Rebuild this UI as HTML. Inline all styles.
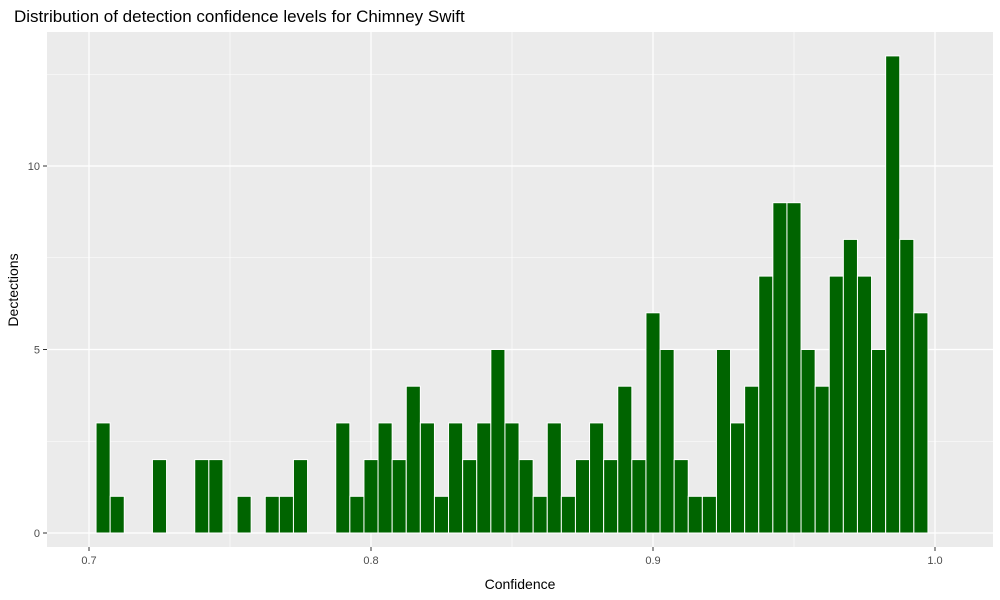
<!DOCTYPE html>
<html><head><meta charset="utf-8"><style>body{margin:0;background:#fff}svg{display:block;font-family:"Liberation Sans",sans-serif}</style></head>
<body>
<svg id="chart" width="1000" height="600">
<text x="14" y="22" font-size="17" fill="#000">Distribution of detection confidence levels for Chimney Swift</text>
<rect x="47" y="32" width="946" height="515" fill="#EBEBEB"/>
<g id="grid"></g><g id="bars"></g><g id="axes"></g>
<text x="520" y="589" font-size="14" text-anchor="middle">Confidence</text>
<text transform="translate(18,290) rotate(-90)" font-size="14" text-anchor="middle">Dectections</text>
</svg>
<script>
const binCenters=[0.705,0.71,0.725,0.74,0.745,0.755,0.765,0.77,0.775,0.79,0.795,0.8,0.805,0.81,0.815,0.82,0.825,0.83,0.835,0.84,0.845,0.85,0.855,0.86,0.865,0.87,0.875,0.88,0.885,0.89,0.895,0.9,0.905,0.91,0.915,0.92,0.925,0.93,0.935,0.94,0.945,0.95,0.955,0.96,0.965,0.97,0.975,0.98,0.985,0.99,0.995];
const counts=[3,1,2,2,2,1,1,1,2,3,1,2,3,2,4,3,1,3,2,3,5,3,2,1,3,1,2,3,2,4,2,6,5,2,1,1,5,3,4,7,9,9,5,4,7,8,7,5,13,8,6];
const xTicks=[0.7,0.8,0.9,1.0];
const xTickLabels=["0.7","0.8","0.9","1.0"];
const yTicks=[0,5,10];
const yTickLabels=["0","5","10"];
const binWidth=0.005;
const NS="http://www.w3.org/2000/svg";
const X=v=>89+(v-0.7)*2820;
const Y=v=>533-v*36.7;
const L=47,R=993,T=32,B=547;
function mk(tag,attrs,parent){const e=document.createElementNS(NS,tag);for(const k in attrs)e.setAttribute(k,attrs[k]);document.getElementById(parent).appendChild(e);return e;}
// minor grid
[0.65,0.75,0.85,0.95].forEach(v=>{if(X(v)>L){const e=mk('line',{x1:X(v),x2:X(v),y1:T,y2:B,stroke:'#fff','stroke-width':0.6},'grid');}});
[2.5,7.5,12.5].forEach(v=>{const e=mk('line',{x1:L,x2:R,y1:Y(v),y2:Y(v),stroke:'#fff','stroke-width':0.6},'grid');});
xTicks.forEach((v,i)=>{const e=mk('line',{x1:X(v),x2:X(v),y1:T,y2:B,stroke:'#fff','stroke-width':1.2},'grid');
const t=mk('line',{x1:X(v),x2:X(v),y1:B,y2:B+4,stroke:'#333'},'axes');
const l=mk('text',{x:X(v),y:B+17,'font-size':11,'text-anchor':'middle',fill:'#4d4d4d'},'axes');l.textContent=xTickLabels[i];});
yTicks.forEach((v,i)=>{const e=mk('line',{x1:L,x2:R,y1:Y(v),y2:Y(v),stroke:'#fff','stroke-width':1.2},'grid');
const t=mk('line',{x1:L-4,x2:L,y1:Y(v),y2:Y(v),stroke:'#333'},'axes');
const l=mk('text',{x:L-7,y:Y(v)+4,'font-size':11,'text-anchor':'end',fill:'#4d4d4d'},'axes');l.textContent=yTickLabels[i];});
binCenters.forEach((c,i)=>{const x0=X(c-binWidth/2),x1=X(c+binWidth/2);
const b=mk('rect',{x:x0,y:Y(counts[i]),width:x1-x0,height:Y(0)-Y(counts[i]),fill:'#006400',stroke:'#fff','stroke-width':1},'bars');

});
</script>
</body></html>
